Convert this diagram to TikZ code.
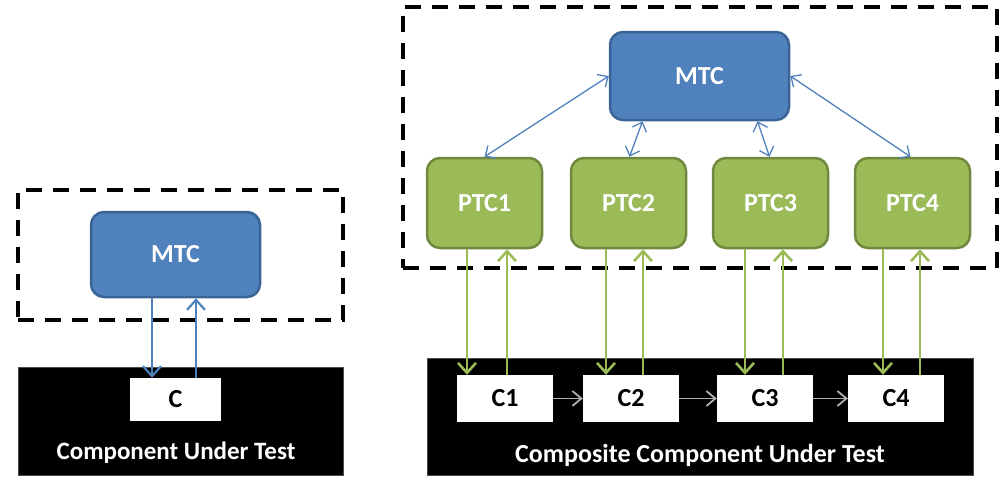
\documentclass[tikz,border=0pt]{standalone}
\usepackage{fontspec}
\setmainfont{Carlito}
\usetikzlibrary{arrows.meta}
\definecolor{mtcblue}{HTML}{4F81BD}
\definecolor{mtcedge}{HTML}{3A6496}
\definecolor{ptcgreen}{HTML}{9BBB59}
\definecolor{ptcedge}{HTML}{71893F}
\definecolor{chaingray}{HTML}{B0B0B0}
\tikzset{
  mtcbox/.style={rounded corners=13pt, fill=mtcblue, draw=mtcedge, line width=2.5pt,
    text=white, font=\bfseries\fontsize{26}{26}\selectfont},
  ptcbox/.style={rounded corners=13pt, fill=ptcgreen, draw=ptcedge, line width=2.5pt,
    text=white, font=\bfseries\fontsize{26}{26}\selectfont, minimum width=115pt, minimum height=90pt},
  cbox/.style={fill=white, draw=none, text=black, font=\bfseries\fontsize{26}{26}\selectfont,
    minimum height=47pt},
  cutbox/.style={fill=black, draw=black!70, line width=0.8pt, inner sep=0pt},
  cutlabel/.style={text=white, font=\bfseries\fontsize{26}{26}\selectfont},
  frame/.style={draw=black, line width=3.6pt, dash pattern=on 16pt off 11pt, inner sep=0pt},
  bluearrow/.style={draw=mtcblue, line width=1.3pt,
    {Straight Barb[length=8pt,width=15pt]}-{Straight Barb[length=8pt,width=15pt]}},
  greenarrow/.style={draw=ptcgreen, line width=2.6pt,
    -{Straight Barb[length=10pt,width=18pt]}},
  grayarrow/.style={draw=chaingray, line width=1.8pt,
    -{Straight Barb[length=9pt,width=15pt]}}
}
\begin{document}
\begin{tikzpicture}[x=1pt,y=-1pt]
\useasboundingbox (0,0) rectangle (1005,493);

% ---------- left diagram ----------
\node[frame, minimum width=325pt, minimum height=130pt] (LF) at (180.5,255) {};
\node[cutbox, minimum width=325pt, minimum height=108pt] (LB) at (180.5,421) {};
\node[mtcbox, minimum width=169pt, minimum height=85pt] (LM) at (175.5,254.5) {MTC};
\node[cbox, minimum width=91pt, minimum height=43pt] (LC) at (175.5,399.5) {C};
\node[cutlabel, font=\bfseries\fontsize{25}{25}\selectfont] (LT) at (176,453) {Component Under Test};

\coordinate (ld) at (152,0);
\coordinate (lu) at (196,0);
\draw[greenarrow, draw=mtcblue, line width=2.2pt] (ld |- LM.south) -- (ld |- LC.north);
\draw[greenarrow, draw=mtcblue, line width=2.2pt] (lu |- LC.north) -- (lu |- LM.south);

% ---------- right diagram ----------
\node[frame, minimum width=594pt, minimum height=261pt] (RF) at (700,137.5) {};
\node[cutbox, minimum width=546pt, minimum height=117pt] (RB) at (700,416.5) {};
\node[mtcbox, minimum width=179pt, minimum height=88pt] (M) at (699.5,76) {MTC};

\node[ptcbox] (P1) at (484.5,203) {PTC1};
\node[ptcbox] (P2) at (628.5,203) {PTC2};
\node[ptcbox] (P3) at (770.5,203) {PTC3};
\node[ptcbox] (P4) at (912.5,203) {PTC4};

\node[cbox, minimum width=96pt] (C1) at (505,398.5) {C1};
\node[cbox, minimum width=96pt] (C2) at (631,398.5) {C2};
\node[cbox, minimum width=96pt] (C3) at (765,398.5) {C3};
\node[cbox, minimum width=96pt] (C4) at (896,398.5) {C4};

\node[cutlabel] (RT) at (700,455) {Composite Component Under Test};

% MTC <-> PTC
\coordinate (m2) at ([xshift=-57pt]M.south);
\coordinate (m3) at ([xshift=58pt]M.south);
\draw[bluearrow] (M.west) -- (P1.north);
\draw[bluearrow] (m2) -- ([xshift=1pt]P2.north);
\draw[bluearrow] (m3) -- ([xshift=-1pt]P3.north);
\draw[bluearrow] (M.east) -- ([xshift=-2pt]P4.north);

% PTC <-> C
\coordinate (d1) at (467,0);  \coordinate (u1) at (507,0);
\coordinate (d2) at (606,0);  \coordinate (u2) at (643,0);
\coordinate (d3) at (745,0);  \coordinate (u3) at (783,0);
\coordinate (d4) at (883,0);  \coordinate (u4) at (920,0);
\draw[greenarrow] (d1 |- P1.south) -- (d1 |- C1.north);
\draw[greenarrow] (u1 |- C1.north) -- (u1 |- P1.south);
\draw[greenarrow] (d2 |- P2.south) -- (d2 |- C2.north);
\draw[greenarrow] (u2 |- C2.north) -- (u2 |- P2.south);
\draw[greenarrow] (d3 |- P3.south) -- (d3 |- C3.north);
\draw[greenarrow] (u3 |- C3.north) -- (u3 |- P3.south);
\draw[greenarrow] (d4 |- P4.south) -- (d4 |- C4.north);
\draw[greenarrow] (u4 |- C4.north) -- (u4 |- P4.south);

% chain
\draw[grayarrow] (C1.east) -- (C2.west);
\draw[grayarrow] (C2.east) -- (C3.west);
\draw[grayarrow] (C3.east) -- (C4.west);
\end{tikzpicture}
\end{document}
